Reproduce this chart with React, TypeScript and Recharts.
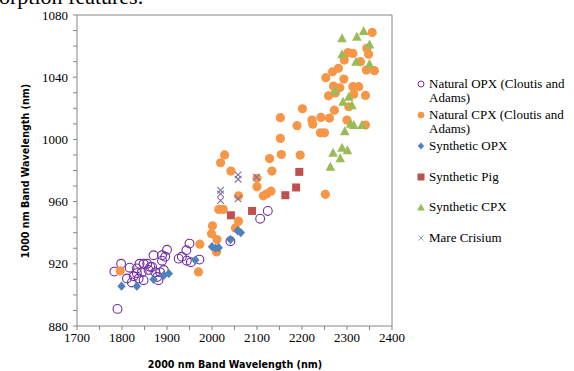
import React from 'react';
import { ScatterChart, Scatter, XAxis, YAxis, ReferenceLine } from 'recharts';

const naturalOPX = [
  { x: 1790, y: 891 }, { x: 1783, y: 915 }, { x: 1798, y: 920 }, { x: 1817, y: 917.5 },
  { x: 1811, y: 910.5 }, { x: 1822, y: 908 }, { x: 1833, y: 914 }, { x: 1833, y: 917 },
  { x: 1839, y: 920 }, { x: 1848, y: 920 }, { x: 1856, y: 920 }, { x: 1844, y: 914.5 },
  { x: 1837, y: 910.5 }, { x: 1848, y: 909.5 }, { x: 1863, y: 918 }, { x: 1870, y: 925.5 },
  { x: 1874, y: 914.5 }, { x: 1881, y: 909.5 }, { x: 1889, y: 922 }, { x: 1896, y: 924.5 },
  { x: 1900, y: 929 }, { x: 1885, y: 914.5 }, { x: 1878, y: 911.5 }, { x: 1859, y: 916 },
  { x: 1867, y: 918 }, { x: 1893, y: 916 }, { x: 1889, y: 925.5 }, { x: 1826, y: 912 },
  { x: 1926, y: 923.3 }, { x: 1933, y: 924.5 }, { x: 1943, y: 928.7 }, { x: 1950, y: 933 },
  { x: 1944, y: 922 }, { x: 1953, y: 921 }, { x: 1972, y: 922.7 }, { x: 2041, y: 934.5 },
  { x: 2107, y: 949 }, { x: 2124, y: 954 },
];

const naturalCPX = [
  { x: 1796, y: 915.4 }, { x: 1973, y: 932.6 }, { x: 1970, y: 914.8 }, { x: 2001, y: 944.4 },
  { x: 1999, y: 939.4 }, { x: 2011, y: 935.6 }, { x: 2010, y: 927.6 }, { x: 2019, y: 985 },
  { x: 2028, y: 990 }, { x: 2042, y: 979.6 }, { x: 2015, y: 955 }, { x: 2025, y: 955 },
  { x: 2052, y: 943 }, { x: 2059, y: 947.4 }, { x: 2059, y: 963.7 }, { x: 2100, y: 975 },
  { x: 2100, y: 969.5 }, { x: 2114, y: 963.7 }, { x: 2122, y: 965 }, { x: 2131, y: 966.7 },
  { x: 2128, y: 987.7 }, { x: 2133, y: 979.6 }, { x: 2152, y: 1014 }, { x: 2152, y: 1000.6 },
  { x: 2154, y: 990.3 }, { x: 2189, y: 1008.8 }, { x: 2196, y: 989.9 }, { x: 2201, y: 1019.7 },
  { x: 2222, y: 1012.4 }, { x: 2224, y: 1009.8 }, { x: 2242, y: 1014.1 }, { x: 2241, y: 1004.2 },
  { x: 2250, y: 1004.2 }, { x: 2252, y: 964.7 }, { x: 2253, y: 1039.7 }, { x: 2259, y: 1028 },
  { x: 2261, y: 1013.7 }, { x: 2268, y: 1043.5 }, { x: 2270, y: 1034.3 }, { x: 2272, y: 1018.8 },
  { x: 2274, y: 1029.9 }, { x: 2281, y: 1045.7 }, { x: 2284, y: 1033.2 }, { x: 2293, y: 1038.8 },
  { x: 2294, y: 1051 }, { x: 2302, y: 1055.8 }, { x: 2300, y: 1012.4 }, { x: 2304, y: 1021 },
  { x: 2313, y: 1055.3 }, { x: 2313, y: 1033.9 }, { x: 2315, y: 1029.1 }, { x: 2326, y: 1033.9 },
  { x: 2330, y: 1050 }, { x: 2341, y: 1028.3 }, { x: 2341, y: 1009.2 }, { x: 2343, y: 1044.6 },
  { x: 2344, y: 1058.6 }, { x: 2348, y: 1054.7 }, { x: 2356, y: 1068.8 }, { x: 2361, y: 1044.2 },
];

const syntheticOPX = [
  { x: 1799, y: 905.6 }, { x: 1833, y: 905.6 }, { x: 1870, y: 910 }, { x: 1893, y: 912.6 },
  { x: 1904, y: 913.7 }, { x: 1963, y: 922.4 }, { x: 2000, y: 931 }, { x: 2015, y: 930.4 },
  { x: 2041, y: 935.6 }, { x: 2057, y: 941.2 }, { x: 2064, y: 940.1 }, { x: 2008, y: 930 },
];

const syntheticPig = [
  { x: 2042, y: 951.2 }, { x: 2089, y: 954 }, { x: 2163, y: 964.1 }, { x: 2187, y: 969.1 },
  { x: 2194, y: 979.1 },
];

const syntheticCPX = [
  { x: 2263, y: 982.4 }, { x: 2269, y: 991.4 }, { x: 2285, y: 987.8 }, { x: 2289, y: 994.7 },
  { x: 2301, y: 993.1 }, { x: 2295, y: 1005.3 }, { x: 2291, y: 1024.2 }, { x: 2304, y: 1027.4 },
  { x: 2311, y: 1022 }, { x: 2315, y: 1009.2 }, { x: 2308, y: 1010 }, { x: 2333, y: 1009.2 },
  { x: 2274, y: 1031.4 }, { x: 2289, y: 1054.7 }, { x: 2289, y: 1065 }, { x: 2320, y: 1050 },
  { x: 2322, y: 1066 }, { x: 2337, y: 1069.7 }, { x: 2350, y: 1061.1 }, { x: 2350, y: 1048.5 },
];

const mareCrisium = [
  { x: 2019, y: 967.3 }, { x: 2019, y: 965 }, { x: 2019, y: 960.6 }, { x: 2058, y: 977.2 },
  { x: 2058, y: 974.4 }, { x: 2058, y: 961.8 }, { x: 2099, y: 975.7 },
];

const xTicks = [1700, 1750, 1800, 1850, 1900, 1950, 2000, 2050, 2100, 2150, 2200, 2250, 2300, 2350, 2400];
const yTicks = [880, 890, 900, 910, 920, 930, 940, 950, 960, 970, 980, 990, 1000, 1010, 1020, 1030, 1040, 1050, 1060, 1070, 1080];

const C_OPX = '#7030A0';
const C_CPX = '#F79646';
const C_SOPX = '#4F81BD';
const C_PIG = '#C0504D';
const C_SCPX = '#9BBB59';
const C_MARE = '#7F6FA8';
const AXIS = '#868686';
const SERIF = '"Liberation Serif", "Times New Roman", serif';

const OpenCircle = (p: any) => <circle cx={p.cx} cy={p.cy} r={4.4} fill="#fff" fillOpacity={0} stroke={C_OPX} strokeWidth={1.1} />;
const FilledCircle = (p: any) => <circle cx={p.cx} cy={p.cy} r={4.6} fill={C_CPX} />;
const Diamond = (p: any) => (
  <path d={`M${p.cx},${p.cy - 4.6}L${p.cx + 4.2},${p.cy}L${p.cx},${p.cy + 4.6}L${p.cx - 4.2},${p.cy}Z`} fill={C_SOPX} />
);
const Square = (p: any) => <rect x={p.cx - 4} y={p.cy - 4} width={8} height={8} fill={C_PIG} />;
const Triangle = (p: any) => (
  <path d={`M${p.cx},${p.cy - 5}L${p.cx + 4.8},${p.cy + 4}L${p.cx - 4.8},${p.cy + 4}Z`} fill={C_SCPX} />
);
const Cross = (p: any) => (
  <path d={`M${p.cx - 3.3},${p.cy - 3.3}L${p.cx + 3.3},${p.cy + 3.3}M${p.cx + 3.3},${p.cy - 3.3}L${p.cx - 3.3},${p.cy + 3.3}`} stroke={C_MARE} strokeWidth={1.1} fill="none" />
);

const legendItems = [
  { label: ['Natural OPX (Cloutis and', 'Adams)'], top: 77, icon: <circle cx={5} cy={5} r={3} fill="none" stroke={C_OPX} strokeWidth={1} /> },
  { label: ['Natural CPX (Cloutis and', 'Adams)'], top: 108, icon: <circle cx={5} cy={5} r={3.3} fill={C_CPX} /> },
  { label: ['Synthetic OPX'], top: 139, icon: <path d="M5,1.5L8.2,5L5,8.5L1.8,5Z" fill={C_SOPX} /> },
  { label: ['Synthetic Pig'], top: 170, icon: <rect x={1.5} y={1.5} width={7} height={7} fill={C_PIG} /> },
  { label: ['Synthetic CPX'], top: 200, icon: <path d="M5,1.5L8.8,8.5L1.2,8.5Z" fill={C_SCPX} /> },
  { label: ['Mare Crisium'], top: 231, icon: <path d="M2.5,2.5L7.5,7.5M7.5,2.5L2.5,7.5" stroke="#9a9ab0" strokeWidth={1} /> },
];

export default function App() {
  return (
    <div style={{ position: 'absolute', left: 0, top: 0, width: 574, height: 371, background: '#fff', overflow: 'hidden' }}>
      <svg width={574} height={371} style={{ position: 'absolute', left: 0, top: 0 }}>
        <text x={-1} y={4} fontFamily={SERIF} fontSize={22} fill="#000">orption features.</text>
        <text x={235} y={368} textAnchor="middle" fontFamily='"DejaVu Sans", Verdana, sans-serif' fontWeight="bold" fontSize={9.6} fill="#000">2000 nm Band Wavelength (nm)</text>
        <text transform="translate(29,171) rotate(-90)" textAnchor="middle" fontFamily='"DejaVu Sans", Verdana, sans-serif' fontWeight="bold" fontSize={9.6} fill="#000">1000 nm Band Wavelength (nm)</text>
      </svg>
      <div style={{ position: 'absolute', left: 0, top: 0 }}>
        <ScatterChart width={574} height={371} margin={{ top: 15, right: 182, bottom: 15, left: 27 }}>
          <XAxis
            type="number"
            dataKey="x"
            domain={[1700, 2400]}
            ticks={xTicks}
            interval={0}
            tickFormatter={(v: number) => (v % 100 === 0 ? String(v) : '')}
            stroke={AXIS}
            tickSize={4}
            tickMargin={3}
            height={30}
            tick={{ fontFamily: SERIF, fontSize: 13, fill: '#000' }}
            allowDataOverflow
          />
          <YAxis
            type="number"
            dataKey="y"
            domain={[880, 1080]}
            ticks={yTicks}
            interval={0}
            tickFormatter={(v: number) => (v % 40 === 0 ? String(v) : '')}
            stroke={AXIS}
            tickSize={4}
            tickMargin={5}
            width={50}
            tick={{ fontFamily: SERIF, fontSize: 13, fill: '#000' }}
            allowDataOverflow
          />
          <ReferenceLine y={1080} stroke={AXIS} />
          <ReferenceLine x={2400} stroke={AXIS} />
          <Scatter name="Natural OPX (Cloutis and Adams)" data={naturalOPX} shape={OpenCircle} isAnimationActive={false} />
          <Scatter name="Natural CPX (Cloutis and Adams)" data={naturalCPX} shape={FilledCircle} isAnimationActive={false} />
          <Scatter name="Synthetic OPX" data={syntheticOPX} shape={Diamond} isAnimationActive={false} />
          <Scatter name="Synthetic Pig" data={syntheticPig} shape={Square} isAnimationActive={false} />
          <Scatter name="Synthetic CPX" data={syntheticCPX} shape={Triangle} isAnimationActive={false} />
          <Scatter name="Mare Crisium" data={mareCrisium} shape={Cross} isAnimationActive={false} />
        </ScatterChart>
      </div>
      {legendItems.map((it, i) => (
        <div key={i} style={{ position: 'absolute', left: 416, top: it.top, fontFamily: SERIF, fontSize: 13, lineHeight: '13.5px', color: '#000' }}>
          <svg width={10} height={10} style={{ position: 'absolute', left: 0, top: 2 }}>{it.icon}</svg>
          <div style={{ marginLeft: 13 }}>
            {it.label.map((l, j) => <div key={j}>{l}</div>)}
          </div>
        </div>
      ))}
    </div>
  );
}
